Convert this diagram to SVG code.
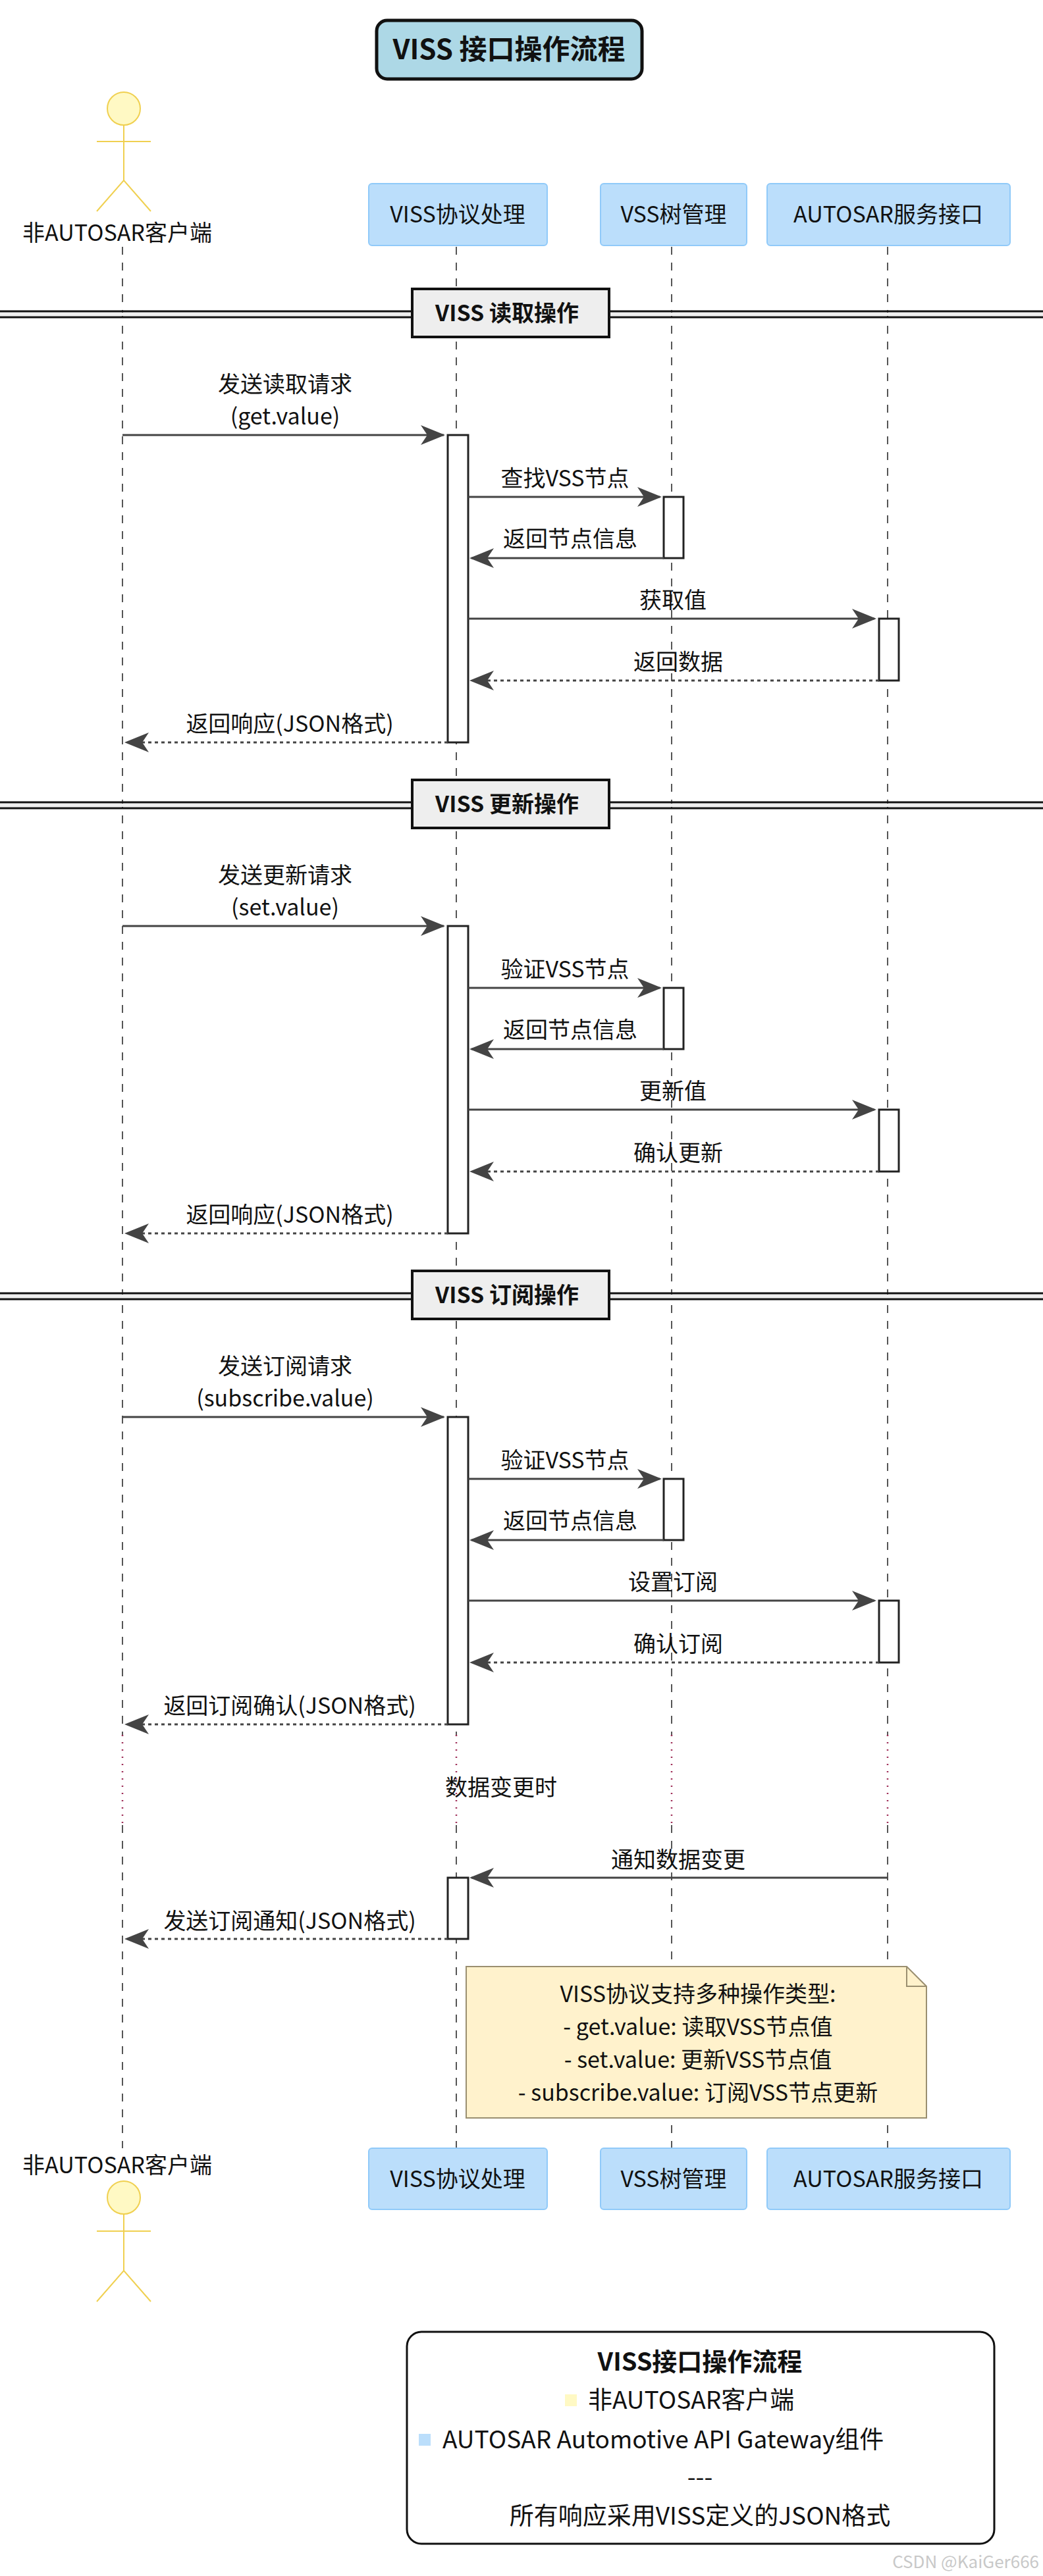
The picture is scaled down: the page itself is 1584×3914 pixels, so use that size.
<svg xmlns="http://www.w3.org/2000/svg" width="1584" height="3914" viewBox="0 0 1584 3914">
<style>
text{font-family:"Noto Sans CJK SC","Liberation Sans",sans-serif;fill:#111}
.m{font-size:34px;text-anchor:middle}
.p{font-size:34px;text-anchor:middle}
.part{fill:#BBDEFB;stroke:#90CAF9;stroke-width:2}
.life{stroke:#555;stroke-width:2;stroke-dasharray:12,12;fill:none}
.dot{stroke:#A0305A;stroke-width:2.5;stroke-dasharray:2,9;fill:none}
.act{fill:#fff;stroke:#222;stroke-width:3}
.msg{stroke:#444;stroke-width:3;fill:none}
.ret{stroke:#444;stroke-width:3;fill:none;stroke-dasharray:5,5}
.ah{fill:#444}
.actor{fill:none;stroke:#F0D050;stroke-width:2}
.sec{fill:#EEEEEE;stroke:#111;stroke-width:4}
.st{font-size:34px;font-weight:bold;text-anchor:middle}
</style>
<defs>
<path id="ar" d="M0,0 L-37,-15 L-27,0 L-37,15 Z" class="ah"/>
<path id="al" d="M0,0 L37,-15 L27,0 L37,15 Z" class="ah"/>
<g id="secbar"><line x1="0" y1="-4" x2="1584" y2="-4" stroke="#111" stroke-width="3"/><line x1="0" y1="5" x2="1584" y2="5" stroke="#111" stroke-width="3"/><line x1="0" y1="0.5" x2="1584" y2="0.5" stroke="#eee" stroke-width="5"/></g>
</defs>
<rect width="1584" height="3914" fill="#fff"/>

<g id="title"><rect x="572" y="31" width="403" height="89" rx="16" fill="#ADD8E6" stroke="#111" stroke-width="5"/><text x="773" y="90" style="font-size:42px;font-weight:bold;text-anchor:middle">VISS 接口操作流程</text></g>

<g id="lifelines">
<path class="life" d="M186,375V2636M186,2773V3264M693,375V2636M693,2773V3264M1020,375V2636M1020,2773V3264M1348,375V2636M1348,2773V3264"/>
<path class="dot" d="M186,2636V2773M693,2636V2773M1020,2636V2773M1348,2636V2773"/>
</g>

<g id="client">
<circle cx="188" cy="165" r="25" fill="#FFF9C4" stroke="#F0D050" stroke-width="2"/>
<path class="actor" d="M188,190V274M147,215H229M147,321L188,274L229,321"/>
<text x="178" y="366" class="p">非AUTOSAR客户端</text>
<text x="178" y="3302" class="p">非AUTOSAR客户端</text>
<circle cx="188" cy="3339" r="25" fill="#FFF9C4" stroke="#F0D050" stroke-width="2"/>
<path class="actor" d="M188,3364V3450M147,3390H229M147,3497L188,3450L229,3497"/>
</g>
<g id="viss"><rect class="part" x="560" y="279" width="271" height="94" rx="5"/><text x="695" y="338" class="p">VISS协议处理</text>
<rect class="part" x="560" y="3264" width="271" height="93" rx="5"/><text x="695" y="3323" class="p">VISS协议处理</text></g>
<g id="vss"><rect class="part" x="912" y="279" width="222" height="94" rx="5"/><text x="1023" y="338" class="p">VSS树管理</text>
<rect class="part" x="912" y="3264" width="222" height="93" rx="5"/><text x="1023" y="3323" class="p">VSS树管理</text></g>
<g id="autosar"><rect class="part" x="1165" y="279" width="369" height="94" rx="5"/><text x="1349" y="338" class="p">AUTOSAR服务接口</text>
<rect class="part" x="1165" y="3264" width="369" height="93" rx="5"/><text x="1349" y="3323" class="p">AUTOSAR服务接口</text></g>

<g id="activations">
<rect class="act" x="680" y="661" width="31" height="467"/><rect class="act" x="1008" y="755" width="30" height="93"/><rect class="act" x="1335" y="940" width="30" height="94"/>
<rect class="act" x="680" y="1407" width="31" height="467"/><rect class="act" x="1008" y="1501" width="30" height="93"/><rect class="act" x="1335" y="1686" width="30" height="94"/>
<rect class="act" x="680" y="2153" width="31" height="467"/><rect class="act" x="1008" y="2247" width="30" height="93"/><rect class="act" x="1335" y="2432" width="30" height="94"/>
<rect class="act" x="680" y="2853" width="31" height="93"/>
</g>

<g id="connectors">
<g id="read">
<line class="msg" x1="186" y1="661" x2="674" y2="661"/><use href="#ar" x="676" y="661"/>
<text class="m" x="433" y="596">发送读取请求</text><text class="m" x="433" y="645">(get.value)</text>
<line class="msg" x1="711" y1="755" x2="1002" y2="755"/><use href="#ar" x="1005" y="755"/><text class="m" x="858" y="739">查找VSS节点</text>
<line class="msg" x1="1008" y1="848" x2="716" y2="848"/><use href="#al" x="713" y="848"/><text class="m" x="866" y="831">返回节点信息</text>
<line class="msg" x1="711" y1="940" x2="1328" y2="940"/><use href="#ar" x="1331" y="940"/><text class="m" x="1022" y="924">获取值</text>
<line class="ret" x1="1335" y1="1034" x2="716" y2="1034"/><use href="#al" x="713" y="1034"/><text class="m" x="1030" y="1018">返回数据</text>
<line class="ret" x1="680" y1="1128" x2="192" y2="1128"/><use href="#al" x="189" y="1128"/><text class="m" x="440" y="1112">返回响应(JSON格式)</text>
</g>
<g id="update" transform="translate(0,746)">
<line class="msg" x1="186" y1="661" x2="674" y2="661"/><use href="#ar" x="676" y="661"/>
<text class="m" x="433" y="596">发送更新请求</text><text class="m" x="433" y="645">(set.value)</text>
<line class="msg" x1="711" y1="755" x2="1002" y2="755"/><use href="#ar" x="1005" y="755"/><text class="m" x="858" y="739">验证VSS节点</text>
<line class="msg" x1="1008" y1="848" x2="716" y2="848"/><use href="#al" x="713" y="848"/><text class="m" x="866" y="831">返回节点信息</text>
<line class="msg" x1="711" y1="940" x2="1328" y2="940"/><use href="#ar" x="1331" y="940"/><text class="m" x="1022" y="924">更新值</text>
<line class="ret" x1="1335" y1="1034" x2="716" y2="1034"/><use href="#al" x="713" y="1034"/><text class="m" x="1030" y="1018">确认更新</text>
<line class="ret" x1="680" y1="1128" x2="192" y2="1128"/><use href="#al" x="189" y="1128"/><text class="m" x="440" y="1112">返回响应(JSON格式)</text>
</g>
<g id="subscribe" transform="translate(0,1492)">
<line class="msg" x1="186" y1="661" x2="674" y2="661"/><use href="#ar" x="676" y="661"/>
<text class="m" x="433" y="596">发送订阅请求</text><text class="m" x="433" y="645">(subscribe.value)</text>
<line class="msg" x1="711" y1="755" x2="1002" y2="755"/><use href="#ar" x="1005" y="755"/><text class="m" x="858" y="739">验证VSS节点</text>
<line class="msg" x1="1008" y1="848" x2="716" y2="848"/><use href="#al" x="713" y="848"/><text class="m" x="866" y="831">返回节点信息</text>
<line class="msg" x1="711" y1="940" x2="1328" y2="940"/><use href="#ar" x="1331" y="940"/><text class="m" x="1022" y="924">设置订阅</text>
<line class="ret" x1="1335" y1="1034" x2="716" y2="1034"/><use href="#al" x="713" y="1034"/><text class="m" x="1030" y="1018">确认订阅</text>
<line class="ret" x1="680" y1="1128" x2="192" y2="1128"/><use href="#al" x="189" y="1128"/><text class="m" x="440" y="1112">返回订阅确认(JSON格式)</text>
</g>
<line class="msg" x1="1348" y1="2853" x2="716" y2="2853"/><use href="#al" x="713" y="2853"/><text class="m" x="1030" y="2838">通知数据变更</text>
<line class="ret" x1="680" y1="2946" x2="192" y2="2946"/><use href="#al" x="189" y="2946"/><text class="m" x="440" y="2931">发送订阅通知(JSON格式)</text>
</g>
<text x="676" y="2728" style="font-size:34px">数据变更时</text>

<g id="sections">
<use href="#secbar" y="477"/><rect class="sec" x="626" y="439" width="299" height="73"/><text class="st" x="770" y="488">VISS 读取操作</text>
<use href="#secbar" y="1223"/><rect class="sec" x="626" y="1185" width="299" height="73"/><text class="st" x="770" y="1234">VISS 更新操作</text>
<use href="#secbar" y="1969"/><rect class="sec" x="626" y="1931" width="299" height="73"/><text class="st" x="770" y="1980">VISS 订阅操作</text>
</g>

<g id="note">
<path d="M708,2988H1377L1407,3018V3218H708Z" fill="#FFF2CC" stroke="#9A8F70" stroke-width="2"/>
<path d="M1377,2988V3018H1407" fill="none" stroke="#9A8F70" stroke-width="2"/>
<text class="m" x="1060" y="3042">VISS协议支持多种操作类型:</text>
<text class="m" x="1060" y="3092">- get.value: 读取VSS节点值</text>
<text class="m" x="1060" y="3142">- set.value: 更新VSS节点值</text>
<text class="m" x="1060" y="3192">- subscribe.value: 订阅VSS节点更新</text>
</g>

<g id="legend">
<rect x="618" y="3543" width="892" height="322" rx="22" fill="#fff" stroke="#111" stroke-width="3"/>
<text x="1063" y="3602" style="font-size:38px;font-weight:bold;text-anchor:middle">VISS接口操作流程</text>
<rect x="858" y="3638" width="18" height="18" fill="#FFF9C4"/>
<text x="893" y="3660" style="font-size:37px">非AUTOSAR客户端</text>
<rect x="636" y="3698" width="18" height="18" fill="#BBDEFB"/>
<text x="672" y="3720" style="font-size:37px">AUTOSAR Automotive API Gateway组件</text>
<text x="1063" y="3777" style="font-size:37px;text-anchor:middle">---</text>
<text x="1063" y="3836" style="font-size:37px;text-anchor:middle">所有响应采用VISS定义的JSON格式</text>
</g>
<text x="1578" y="3902" style="font-size:26px;text-anchor:end;fill:#C8C8C8">CSDN @KaiGer666</text>
</svg>
